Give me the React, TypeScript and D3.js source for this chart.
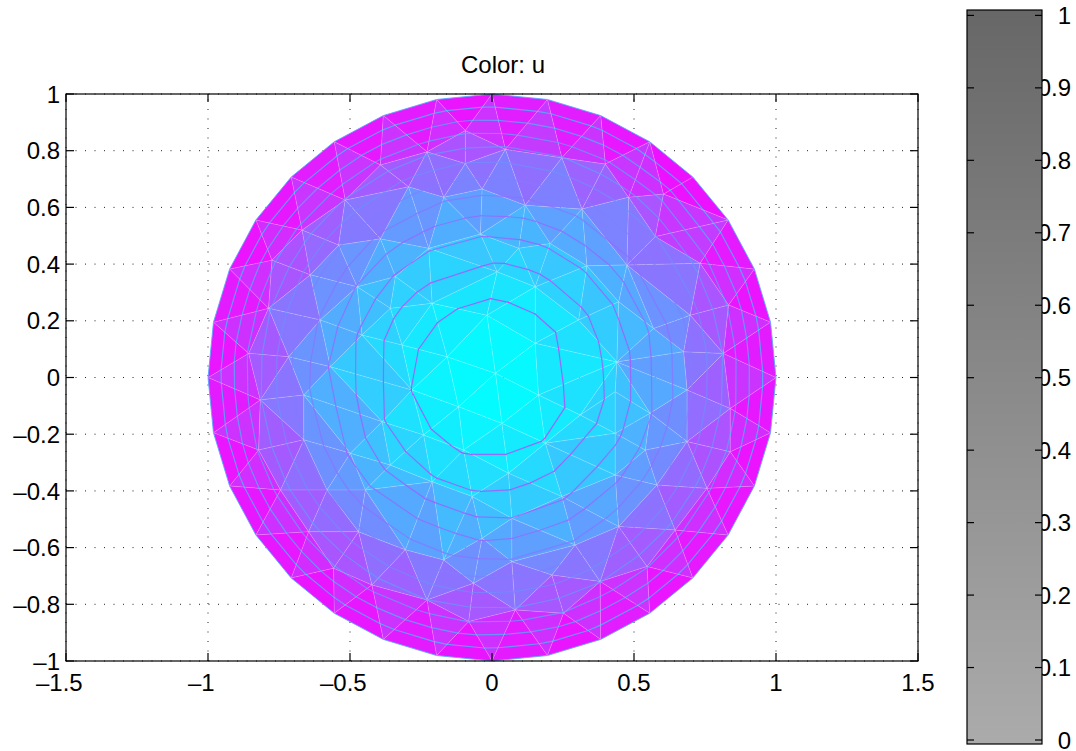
import React from 'react';
import * as d3 from 'd3';

// axis ticks
const xTicks = [-1.5, -1, -0.5, 0, 0.5, 1, 1.5];
const yTicks = [-1, -0.8, -0.6, -0.4, -0.2, 0, 0.2, 0.4, 0.6, 0.8, 1];
const colorbarTicks = [0, 0.1, 0.2, 0.3, 0.4, 0.5, 0.6, 0.7, 0.8, 0.9, 1];

// unit disk boundary is split into 32 edges
const boundarySegments = 32;

// interior mesh nodes (data coords)
const meshNodes: [number, number][] = [
  [-0.094, 0.871], [-0.229, 0.796], [-0.393, 0.75], [-0.094, 0.755], [-0.035, 0.665],
  [-0.17, 0.636], [-0.294, 0.673], [-0.517, 0.626], [-0.393, 0.489], [-0.54, 0.467],
  [-0.669, 0.52], [-0.223, 0.456], [-0.041, 0.506], [-0.64, 0.362], [-0.775, 0.414],
  [-0.475, 0.32], [-0.34, 0.356], [-0.211, 0.262], [-0.358, 0.244], [-0.018, 0.22],
  [-0.787, 0.244], [-0.605, 0.203], [-0.458, 0.15], [-0.317, 0.115], [-0.158, 0.073],
  [-0.857, 0.085], [-0.716, 0.073], [-0.569, 0.038],
  [0.047, 0.805], [0.246, 0.775], [0.399, 0.753], [0.117, 0.608], [0.317, 0.594],
  [0.481, 0.636], [0.604, 0.647], [0.205, 0.473], [0.575, 0.497], [0.733, 0.403],
  [0.334, 0.394], [0.475, 0.397], [0.152, 0.32], [0.446, 0.267], [0.698, 0.22],
  [0.833, 0.256], [0.305, 0.203], [0.569, 0.173], [0.152, 0.121], [0.815, 0.085],
  [0.675, 0.091], [0.44, 0.055], [0.094, 0.456], [0.018, 0.373], [0.012, 0.015],
  [-0.282, -0.044],
  [-0.816, -0.079], [-0.663, -0.062], [-0.663, -0.22], [-0.822, -0.256], [-0.499, -0.267],
  [-0.387, -0.156], [-0.241, -0.203], [-0.118, -0.103], [-0.745, -0.397], [-0.581, -0.397],
  [-0.446, -0.397], [-0.358, -0.309], [-0.211, -0.368], [-0.07, -0.42], [-0.47, -0.544],
  [-0.646, -0.544], [-0.305, -0.608], [-0.17, -0.644], [-0.035, -0.567], [-0.558, -0.673],
  [-0.423, -0.732], [-0.229, -0.785], [-0.065, -0.726], [-0.082, -0.861], [-0.1, -0.256],
  [0.164, -0.062], [0.434, -0.05], [0.687, -0.044], [0.839, -0.109], [0.557, -0.126],
  [0.434, -0.197], [0.687, -0.226], [0.839, -0.262], [0.54, -0.256], [0.311, -0.132],
  [0.188, -0.232], [0.058, -0.338], [0.246, -0.42], [0.434, -0.344], [0.581, -0.379],
  [0.757, -0.391], [0.446, -0.526], [0.645, -0.538], [0.07, -0.497], [0.293, -0.591],
  [0.546, -0.667], [0.07, -0.65], [0.211, -0.697], [0.381, -0.72], [0.082, -0.82],
  [0.252, -0.832], [0.035, -0.162]
];

// contour levels of u
const contourLevels = [0.0208, 0.0417, 0.0625, 0.0833, 0.1042, 0.125, 0.1458, 0.1667, 0.1875, 0.2083, 0.2292];

const FONT = 'Liberation Sans, Arial, Helvetica, sans-serif';

const fmt = (v: number) => (v < 0 ? '\u2013' : '') + String(Math.abs(v));

// 'cool' colormap, cyan -> magenta
const cool = (t: number) => {
  const c = Math.max(0, Math.min(1, t));
  return d3.rgb(255 * c, 255 * (1 - c), 255).toString();
};

const App = () => {
  const svgRef = React.useRef<SVGSVGElement>(null);

  React.useEffect(() => {
    const svg = d3.select(svgRef.current);
    svg.selectAll('*').remove();

    const x = d3.scaleLinear().domain([-1.5, 1.5]).range([66, 918]);
    const y = d3.scaleLinear().domain([-1, 1]).range([661, 94]);

    // nodes: boundary + interior
    const boundary: [number, number][] = d3.range(boundarySegments).map(i => {
      const a = (i / boundarySegments) * Math.PI * 2;
      return [Math.cos(a), Math.sin(a)];
    });
    const nodes = boundary.concat(meshNodes);
    // solution of -laplace(u) = 1 with u = 0 on the circle
    const u = nodes.map((p, i) => (i < boundarySegments ? 0 : (1 - p[0] * p[0] - p[1] * p[1]) / 4));
    const uMax = d3.max(u) as number;

    const delaunay = d3.Delaunay.from(nodes);
    const tris: number[][] = [];
    for (let i = 0; i < delaunay.triangles.length; i += 3) {
      tris.push([delaunay.triangles[i], delaunay.triangles[i + 1], delaunay.triangles[i + 2]]);
    }

    // grid (under the mesh)
    const grid = svg.append('g')
      .attr('stroke', '#222')
      .attr('stroke-width', 1)
      .attr('stroke-dasharray', '1,8.5');
    grid.selectAll('.gx').data(xTicks).join('line')
      .attr('x1', d => x(d)).attr('x2', d => x(d))
      .attr('y1', y(-1)).attr('y2', y(1));
    grid.selectAll('.gy').data(yTicks).join('line')
      .attr('y1', d => y(d)).attr('y2', d => y(d))
      .attr('x1', x(-1.5)).attr('x2', x(1.5));

    // mesh, flat coloured by u
    svg.append('g').selectAll('path').data(tris).join('path')
      .attr('d', t => 'M' + t.map(k => `${x(nodes[k][0])},${y(nodes[k][1])}`).join('L') + 'Z')
      .attr('fill', t => cool(1 - d3.mean(t, k => u[k])! / uMax))
      .attr('stroke', 'rgba(255,255,255,0.22)')
      .attr('stroke-width', 0.6);

    // contours on the piecewise linear u
    const segs: { level: number; p: [number, number][] }[] = [];
    contourLevels.forEach(c => {
      tris.forEach(t => {
        const pts: [number, number][] = [];
        for (let e = 0; e < 3; e++) {
          const a = t[e], b = t[(e + 1) % 3];
          const ua = u[a] - c, ub = u[b] - c;
          if ((ua < 0) !== (ub < 0)) {
            const s = ua / (ua - ub);
            pts.push([
              nodes[a][0] + s * (nodes[b][0] - nodes[a][0]),
              nodes[a][1] + s * (nodes[b][1] - nodes[a][1])
            ]);
          }
        }
        if (pts.length === 2) segs.push({ level: c, p: pts });
      });
    });
    svg.append('g').selectAll('line').data(segs).join('line')
      .attr('x1', d => x(d.p[0][0])).attr('y1', d => y(d.p[0][1]))
      .attr('x2', d => x(d.p[1][0])).attr('y2', d => y(d.p[1][1]))
      .attr('stroke', d => cool(d.level / uMax))
      .attr('stroke-width', 1.2)
      .attr('stroke-linecap', 'round')
      .attr('opacity', 0.6);

    // boundary edge
    svg.append('path')
      .attr('d', 'M' + boundary.map(p => `${x(p[0])},${y(p[1])}`).join('L') + 'Z')
      .attr('fill', 'none')
      .attr('stroke', '#4aa8ff')
      .attr('stroke-width', 1)
      .attr('opacity', 0.8);

    // axes box + ticks
    const ax = svg.append('g').attr('stroke', '#000').attr('stroke-width', 1.2);
    ax.append('rect')
      .attr('x', x(-1.5)).attr('y', y(1))
      .attr('width', x(1.5) - x(-1.5)).attr('height', y(-1) - y(1))
      .attr('fill', 'none');
    xTicks.forEach(v => {
      ax.append('line').attr('x1', x(v)).attr('x2', x(v)).attr('y1', y(-1)).attr('y2', y(-1) - 8);
      ax.append('line').attr('x1', x(v)).attr('x2', x(v)).attr('y1', y(1)).attr('y2', y(1) + 8);
    });
    yTicks.forEach(v => {
      ax.append('line').attr('y1', y(v)).attr('y2', y(v)).attr('x1', x(-1.5)).attr('x2', x(-1.5) + 8);
      ax.append('line').attr('y1', y(v)).attr('y2', y(v)).attr('x1', x(1.5)).attr('x2', x(1.5) - 8);
    });

    const labels = svg.append('g').style('font-family', FONT).style('font-size', '24px').attr('fill', '#000');
    labels.selectAll('.xl').data(xTicks).join('text')
      .attr('x', d => x(d) - (d < 0 ? 6.7 : 0))
      .attr('y', 691)
      .attr('text-anchor', 'middle')
      .text(d => fmt(d));
    labels.selectAll('.yl').data(yTicks).join('text')
      .attr('x', 60)
      .attr('y', d => y(d) + 8.6)
      .attr('text-anchor', 'end')
      .text(d => fmt(d));

    labels.append('text')
      .attr('x', 503).attr('y', 73)
      .attr('text-anchor', 'middle')
      .text('Color: u');

    // colorbar
    const cb = d3.scaleLinear().domain([0, 1]).range([740, 15.4]);
    const defs = svg.append('defs');
    const grad = defs.append('linearGradient')
      .attr('id', 'cbGrad').attr('x1', 0).attr('x2', 0).attr('y1', 0).attr('y2', 1);
    grad.append('stop').attr('offset', '0%').attr('stop-color', '#676767');
    grad.append('stop').attr('offset', '100%').attr('stop-color', '#ababab');
    svg.append('rect')
      .attr('x', 967).attr('y', 10).attr('width', 75).attr('height', 734)
      .attr('fill', 'url(#cbGrad)')
      .attr('stroke', '#000').attr('stroke-width', 1.2);
    const cbt = svg.append('g').attr('stroke', '#000').attr('stroke-width', 1.2);
    colorbarTicks.forEach(v => {
      cbt.append('line').attr('x1', 967).attr('x2', 974).attr('y1', cb(v)).attr('y2', cb(v));
      cbt.append('line').attr('x1', 1042).attr('x2', 1035).attr('y1', cb(v)).attr('y2', cb(v));
    });
    labels.selectAll('.cl').data(colorbarTicks).join('text')
      .attr('x', 1071)
      .attr('y', d => cb(d) + 8.6)
      .attr('text-anchor', 'end')
      .text(d => String(d));
  }, []);

  return (
    <svg
      ref={svgRef}
      width={1076}
      height={751}
      style={{ position: 'absolute', left: 0, top: 0, background: '#fff' }}
    />
  );
};

export default App;
